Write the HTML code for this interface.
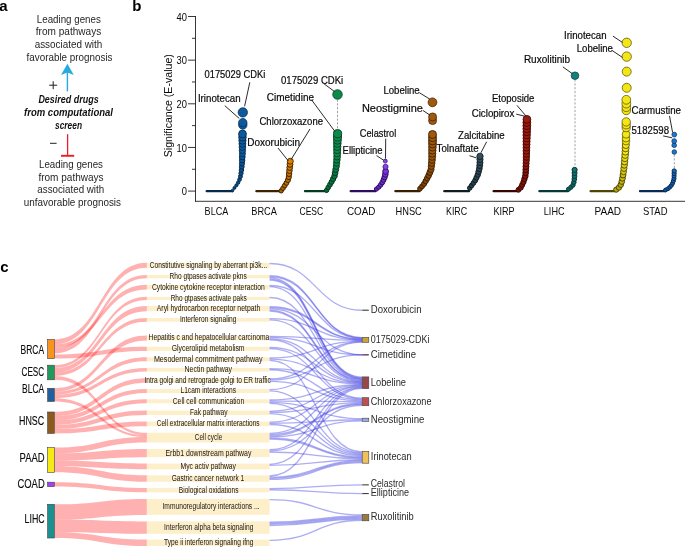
<!DOCTYPE html>
<html><head><meta charset="utf-8"><style>
html,body{margin:0;padding:0;background:#fff;}
svg{display:block;font-family:"Liberation Sans", sans-serif;will-change:transform;}
</style></head><body>
<svg width="685" height="547" viewBox="0 0 685 547">
<rect width="685" height="547" fill="#fff"/>
<text x="-0.8" y="10.8" font-size="15" font-weight="bold" fill="#000">a</text>
<text x="132.2" y="10.8" font-size="15" font-weight="bold" fill="#000">b</text>
<text x="0.2" y="271.6" font-size="15" font-weight="bold" fill="#000">c</text>
<text x="36.80" y="22.50" font-size="10.2" font-weight="normal" font-style="normal" fill="#262626" textLength="64.00" lengthAdjust="spacingAndGlyphs" >Leading genes</text>
<text x="35.80" y="35.30" font-size="10.2" font-weight="normal" font-style="normal" fill="#262626" textLength="65.40" lengthAdjust="spacingAndGlyphs" >from pathways</text>
<text x="34.70" y="48.10" font-size="10.2" font-weight="normal" font-style="normal" fill="#262626" textLength="67.50" lengthAdjust="spacingAndGlyphs" >associated with</text>
<text x="26.60" y="60.90" font-size="10.2" font-weight="normal" font-style="normal" fill="#262626" textLength="85.90" lengthAdjust="spacingAndGlyphs" >favorable prognosis</text>
<line x1="67.4" y1="91.4" x2="67.4" y2="71" stroke="#27aae1" stroke-width="1.4"/>
<polygon points="67.4,63.8 73.8,75.0 67.4,72.6 61.0,75.0" fill="#27aae1"/>
<line x1="49.2" y1="85.2" x2="57.2" y2="85.2" stroke="#231f20" stroke-width="1"/>
<line x1="53.2" y1="81.2" x2="53.2" y2="89.2" stroke="#231f20" stroke-width="1"/>
<text x="38.40" y="103.20" font-size="10.8" font-weight="bold" font-style="italic" fill="#111" textLength="60.30" lengthAdjust="spacingAndGlyphs" >Desired drugs</text>
<text x="24.00" y="116.20" font-size="10.8" font-weight="bold" font-style="italic" fill="#111" textLength="89.00" lengthAdjust="spacingAndGlyphs" >from computational</text>
<text x="55.00" y="129.20" font-size="10.8" font-weight="bold" font-style="italic" fill="#111" textLength="27.00" lengthAdjust="spacingAndGlyphs" >screen</text>
<line x1="50" y1="143.3" x2="56.6" y2="143.3" stroke="#231f20" stroke-width="1"/>
<line x1="67.6" y1="134.2" x2="67.6" y2="155.4" stroke="#ed1c24" stroke-width="1.3"/>
<line x1="61" y1="155.8" x2="74.2" y2="155.8" stroke="#ed1c24" stroke-width="1.9"/>
<text x="39.00" y="167.90" font-size="10.2" font-weight="normal" font-style="normal" fill="#262626" textLength="64.00" lengthAdjust="spacingAndGlyphs" >Leading genes</text>
<text x="38.40" y="180.60" font-size="10.2" font-weight="normal" font-style="normal" fill="#262626" textLength="65.20" lengthAdjust="spacingAndGlyphs" >from pathways</text>
<text x="37.30" y="193.30" font-size="10.2" font-weight="normal" font-style="normal" fill="#262626" textLength="66.90" lengthAdjust="spacingAndGlyphs" >associated with</text>
<text x="23.70" y="206.00" font-size="10.2" font-weight="normal" font-style="normal" fill="#262626" textLength="97.30" lengthAdjust="spacingAndGlyphs" >unfavorable prognosis</text>
<line x1="195.50" y1="16.00" x2="195.50" y2="201.60" stroke="#231f20" stroke-width="0.9" />
<line x1="195.05" y1="201.30" x2="685.00" y2="201.30" stroke="#231f20" stroke-width="0.9" />
<line x1="188.00" y1="191.10" x2="195.50" y2="191.10" stroke="#231f20" stroke-width="0.9" />
<text x="181.80" y="195.40" font-size="10.6" font-weight="normal" font-style="normal" fill="#0a0a0a" textLength="5.20" lengthAdjust="spacingAndGlyphs" >0</text>
<line x1="192.00" y1="169.27" x2="195.50" y2="169.27" stroke="#231f20" stroke-width="0.9" />
<line x1="188.00" y1="147.45" x2="195.50" y2="147.45" stroke="#231f20" stroke-width="0.9" />
<text x="176.60" y="151.75" font-size="10.6" font-weight="normal" font-style="normal" fill="#0a0a0a" textLength="10.40" lengthAdjust="spacingAndGlyphs" >10</text>
<line x1="192.00" y1="125.62" x2="195.50" y2="125.62" stroke="#231f20" stroke-width="0.9" />
<line x1="188.00" y1="103.80" x2="195.50" y2="103.80" stroke="#231f20" stroke-width="0.9" />
<text x="176.60" y="108.10" font-size="10.6" font-weight="normal" font-style="normal" fill="#0a0a0a" textLength="10.40" lengthAdjust="spacingAndGlyphs" >20</text>
<line x1="192.00" y1="81.97" x2="195.50" y2="81.97" stroke="#231f20" stroke-width="0.9" />
<line x1="188.00" y1="60.15" x2="195.50" y2="60.15" stroke="#231f20" stroke-width="0.9" />
<text x="176.60" y="64.45" font-size="10.6" font-weight="normal" font-style="normal" fill="#0a0a0a" textLength="10.40" lengthAdjust="spacingAndGlyphs" >30</text>
<line x1="192.00" y1="38.32" x2="195.50" y2="38.32" stroke="#231f20" stroke-width="0.9" />
<line x1="188.00" y1="16.50" x2="195.50" y2="16.50" stroke="#231f20" stroke-width="0.9" />
<text x="176.60" y="20.80" font-size="10.6" font-weight="normal" font-style="normal" fill="#0a0a0a" textLength="10.40" lengthAdjust="spacingAndGlyphs" >40</text>
<text transform="translate(171.6,157.2) rotate(-90)" x="0" y="0" font-size="11" fill="#0a0a0a" textLength="103" lengthAdjust="spacingAndGlyphs">Significance (E-value)</text>
<text x="204.60" y="215.00" font-size="10.4" font-weight="normal" font-style="normal" fill="#0a0a0a" textLength="23.70" lengthAdjust="spacingAndGlyphs" >BLCA</text>
<text x="251.30" y="215.00" font-size="10.4" font-weight="normal" font-style="normal" fill="#0a0a0a" textLength="25.60" lengthAdjust="spacingAndGlyphs" >BRCA</text>
<text x="299.50" y="215.00" font-size="10.4" font-weight="normal" font-style="normal" fill="#0a0a0a" textLength="23.70" lengthAdjust="spacingAndGlyphs" >CESC</text>
<text x="346.90" y="215.00" font-size="10.4" font-weight="normal" font-style="normal" fill="#0a0a0a" textLength="28.50" lengthAdjust="spacingAndGlyphs" >COAD</text>
<text x="395.50" y="215.00" font-size="10.4" font-weight="normal" font-style="normal" fill="#0a0a0a" textLength="26.30" lengthAdjust="spacingAndGlyphs" >HNSC</text>
<text x="446.00" y="215.00" font-size="10.4" font-weight="normal" font-style="normal" fill="#0a0a0a" textLength="21.10" lengthAdjust="spacingAndGlyphs" >KIRC</text>
<text x="493.40" y="215.00" font-size="10.4" font-weight="normal" font-style="normal" fill="#0a0a0a" textLength="21.20" lengthAdjust="spacingAndGlyphs" >KIRP</text>
<text x="543.80" y="215.00" font-size="10.4" font-weight="normal" font-style="normal" fill="#0a0a0a" textLength="20.80" lengthAdjust="spacingAndGlyphs" >LIHC</text>
<text x="594.50" y="215.00" font-size="10.4" font-weight="normal" font-style="normal" fill="#0a0a0a" textLength="26.60" lengthAdjust="spacingAndGlyphs" >PAAD</text>
<text x="643.00" y="215.00" font-size="10.4" font-weight="normal" font-style="normal" fill="#0a0a0a" textLength="24.50" lengthAdjust="spacingAndGlyphs" >STAD</text>
<line x1="206.7" y1="191.2" x2="232.0" y2="191.2" stroke="#062a4c" stroke-width="2.3" stroke-linecap="round"/>
<circle cx="232.50" cy="190.60" r="1.32" fill="#09477e" stroke="#062a4c" stroke-width="1.0"/>
<circle cx="234.43" cy="187.96" r="1.44" fill="#094880" stroke="#062a4c" stroke-width="1.0"/>
<circle cx="236.41" cy="185.35" r="1.56" fill="#094a82" stroke="#062a4c" stroke-width="1.0"/>
<circle cx="238.15" cy="182.57" r="1.69" fill="#094b84" stroke="#062a4c" stroke-width="1.0"/>
<circle cx="239.52" cy="179.61" r="1.83" fill="#0a4c87" stroke="#062a4c" stroke-width="1.0"/>
<circle cx="240.44" cy="176.48" r="1.97" fill="#0a4e89" stroke="#062a4c" stroke-width="1.0"/>
<circle cx="241.02" cy="173.25" r="2.12" fill="#0a508c" stroke="#062a4c" stroke-width="1.0"/>
<circle cx="241.46" cy="170.01" r="2.27" fill="#0a518f" stroke="#062a4c" stroke-width="1.0"/>
<circle cx="241.76" cy="166.74" r="2.42" fill="#0a5392" stroke="#062a4c" stroke-width="1.0"/>
<circle cx="241.98" cy="163.48" r="2.57" fill="#0a5494" stroke="#062a4c" stroke-width="1.0"/>
<circle cx="242.16" cy="160.20" r="2.72" fill="#0b5697" stroke="#062a4c" stroke-width="1.0"/>
<circle cx="242.28" cy="156.93" r="2.87" fill="#0b579a" stroke="#062a4c" stroke-width="1.0"/>
<circle cx="242.39" cy="153.66" r="3.02" fill="#0b599c" stroke="#062a4c" stroke-width="0.85"/>
<circle cx="242.40" cy="150.38" r="3.17" fill="#0b5a9e" stroke="#062a4c" stroke-width="0.85"/>
<circle cx="242.40" cy="147.10" r="3.32" fill="#0b5a9e" stroke="#062a4c" stroke-width="0.85"/>
<circle cx="242.42" cy="143.83" r="3.47" fill="#0b5a9e" stroke="#062a4c" stroke-width="0.85"/>
<circle cx="242.45" cy="140.55" r="3.62" fill="#0b5a9e" stroke="#062a4c" stroke-width="0.85"/>
<circle cx="242.47" cy="137.28" r="3.77" fill="#0b5a9e" stroke="#062a4c" stroke-width="0.85"/>
<circle cx="242.50" cy="134.00" r="3.92" fill="#0b5a9e" stroke="#062a4c" stroke-width="0.85"/>
<circle cx="242.8" cy="125.0" r="4.2" fill="#0b5a9e" stroke="#062a4c" stroke-width="0.7"/>
<circle cx="242.8" cy="122.6" r="4.2" fill="#0b5a9e" stroke="#062a4c" stroke-width="0.7"/>
<circle cx="242.8" cy="112.4" r="4.7" fill="#0b5a9e" stroke="#062a4c" stroke-width="0.7"/>
<line x1="256.4" y1="191.2" x2="280.5" y2="191.2" stroke="#3d2200" stroke-width="2.3" stroke-linecap="round"/>
<circle cx="281.20" cy="190.80" r="2.21" fill="#a96200" stroke="#3d2200" stroke-width="1.0"/>
<circle cx="283.01" cy="188.18" r="2.28" fill="#ae6500" stroke="#3d2200" stroke-width="1.0"/>
<circle cx="284.77" cy="185.54" r="2.35" fill="#b36800" stroke="#3d2200" stroke-width="1.0"/>
<circle cx="286.47" cy="182.85" r="2.43" fill="#b76b00" stroke="#3d2200" stroke-width="1.0"/>
<circle cx="287.95" cy="180.04" r="2.50" fill="#bd6e00" stroke="#3d2200" stroke-width="1.0"/>
<circle cx="288.78" cy="177.03" r="2.59" fill="#c27100" stroke="#3d2200" stroke-width="1.0"/>
<circle cx="289.10" cy="173.86" r="2.67" fill="#c87400" stroke="#3d2200" stroke-width="1.0"/>
<circle cx="289.43" cy="170.70" r="2.76" fill="#ce7800" stroke="#3d2200" stroke-width="1.0"/>
<circle cx="289.72" cy="167.53" r="2.85" fill="#d37b00" stroke="#3d2200" stroke-width="1.0"/>
<circle cx="290.01" cy="164.37" r="2.93" fill="#d97e00" stroke="#3d2200" stroke-width="1.0"/>
<circle cx="290.30" cy="161.20" r="3.00" fill="#df8200" stroke="#3d2200" stroke-width="0.85"/>
<line x1="305.0" y1="191.2" x2="326.0" y2="191.2" stroke="#043a20" stroke-width="2.3" stroke-linecap="round"/>
<line x1="337.5" y1="99.5" x2="337.5" y2="129.5" stroke="#888" stroke-width="0.8" stroke-dasharray="2.2,1.6"/>
<circle cx="326.60" cy="190.30" r="2.23" fill="#086b3b" stroke="#043a20" stroke-width="1.0"/>
<circle cx="328.24" cy="187.47" r="2.32" fill="#086d3c" stroke="#043a20" stroke-width="1.0"/>
<circle cx="329.96" cy="184.68" r="2.42" fill="#096f3d" stroke="#043a20" stroke-width="1.0"/>
<circle cx="331.62" cy="181.87" r="2.52" fill="#09723f" stroke="#043a20" stroke-width="1.0"/>
<circle cx="333.10" cy="178.95" r="2.62" fill="#097440" stroke="#043a20" stroke-width="1.0"/>
<circle cx="334.53" cy="176.02" r="2.72" fill="#097641" stroke="#043a20" stroke-width="1.0"/>
<circle cx="335.13" cy="172.80" r="2.83" fill="#0a7943" stroke="#043a20" stroke-width="1.0"/>
<circle cx="335.73" cy="169.59" r="2.94" fill="#0a7c44" stroke="#043a20" stroke-width="1.0"/>
<circle cx="336.33" cy="166.37" r="3.05" fill="#0a7e45" stroke="#043a20" stroke-width="0.85"/>
<circle cx="336.62" cy="163.12" r="3.16" fill="#0a8147" stroke="#043a20" stroke-width="0.85"/>
<circle cx="336.88" cy="159.86" r="3.27" fill="#0a8348" stroke="#043a20" stroke-width="0.85"/>
<circle cx="337.10" cy="156.59" r="3.39" fill="#0b864a" stroke="#043a20" stroke-width="0.85"/>
<circle cx="337.14" cy="153.32" r="3.50" fill="#0b894b" stroke="#043a20" stroke-width="0.85"/>
<circle cx="337.18" cy="150.05" r="3.61" fill="#0b8a4c" stroke="#043a20" stroke-width="0.85"/>
<circle cx="337.23" cy="146.78" r="3.72" fill="#0b8a4c" stroke="#043a20" stroke-width="0.85"/>
<circle cx="337.33" cy="143.51" r="3.84" fill="#0b8a4c" stroke="#043a20" stroke-width="0.85"/>
<circle cx="337.42" cy="140.24" r="3.95" fill="#0b8a4c" stroke="#043a20" stroke-width="0.85"/>
<circle cx="337.51" cy="136.97" r="4.06" fill="#0b8a4c" stroke="#043a20" stroke-width="0.85"/>
<circle cx="337.60" cy="133.70" r="4.10" fill="#0b8a4c" stroke="#043a20" stroke-width="0.85"/>
<circle cx="337.5" cy="94.5" r="4.8" fill="#0b8a4c" stroke="#043a20" stroke-width="0.7"/>
<line x1="350.7" y1="191.2" x2="375.5" y2="191.2" stroke="#2e0c66" stroke-width="2.3" stroke-linecap="round"/>
<circle cx="376.50" cy="189.00" r="2.10" fill="#672cbc" stroke="#2e0c66" stroke-width="1.0"/>
<circle cx="378.74" cy="187.13" r="2.18" fill="#692dbe" stroke="#2e0c66" stroke-width="1.0"/>
<circle cx="380.62" cy="184.94" r="2.28" fill="#6b2ec1" stroke="#2e0c66" stroke-width="1.0"/>
<circle cx="382.24" cy="182.52" r="2.39" fill="#6d30c5" stroke="#2e0c66" stroke-width="1.0"/>
<circle cx="383.54" cy="179.91" r="2.51" fill="#7031c9" stroke="#2e0c66" stroke-width="1.0"/>
<circle cx="384.58" cy="177.20" r="2.64" fill="#7233cc" stroke="#2e0c66" stroke-width="1.0"/>
<circle cx="385.35" cy="174.40" r="2.77" fill="#7534d0" stroke="#2e0c66" stroke-width="1.0"/>
<circle cx="385.60" cy="171.50" r="2.90" fill="#7836d4" stroke="#2e0c66" stroke-width="1.0"/>
<circle cx="385.5" cy="166.8" r="2.6" fill="#8a40f0" stroke="#2e0c66" stroke-width="0.7"/>
<circle cx="385.3" cy="161.1" r="2.0" fill="#8a40f0" stroke="#2e0c66" stroke-width="0.7"/>
<line x1="395.4" y1="191.2" x2="419.5" y2="191.2" stroke="#3a1e00" stroke-width="2.3" stroke-linecap="round"/>
<circle cx="420.00" cy="188.70" r="2.38" fill="#7a4207" stroke="#3a1e00" stroke-width="1.0"/>
<circle cx="422.07" cy="186.27" r="2.47" fill="#7c4408" stroke="#3a1e00" stroke-width="1.0"/>
<circle cx="424.10" cy="183.82" r="2.55" fill="#7f4508" stroke="#3a1e00" stroke-width="1.0"/>
<circle cx="425.67" cy="181.04" r="2.65" fill="#824708" stroke="#3a1e00" stroke-width="1.0"/>
<circle cx="427.23" cy="178.27" r="2.74" fill="#854809" stroke="#3a1e00" stroke-width="1.0"/>
<circle cx="428.63" cy="175.41" r="2.84" fill="#874a09" stroke="#3a1e00" stroke-width="1.0"/>
<circle cx="429.87" cy="172.47" r="2.94" fill="#8b4c09" stroke="#3a1e00" stroke-width="1.0"/>
<circle cx="431.03" cy="169.51" r="3.04" fill="#8e4e0a" stroke="#3a1e00" stroke-width="0.85"/>
<circle cx="431.35" cy="166.34" r="3.15" fill="#914f0a" stroke="#3a1e00" stroke-width="0.85"/>
<circle cx="431.68" cy="163.17" r="3.26" fill="#94510b" stroke="#3a1e00" stroke-width="0.85"/>
<circle cx="432.00" cy="160.00" r="3.37" fill="#98530b" stroke="#3a1e00" stroke-width="0.85"/>
<circle cx="432.11" cy="156.81" r="3.48" fill="#9b550b" stroke="#3a1e00" stroke-width="0.85"/>
<circle cx="432.21" cy="153.62" r="3.59" fill="#9e570c" stroke="#3a1e00" stroke-width="0.85"/>
<circle cx="432.32" cy="150.44" r="3.70" fill="#a0580c" stroke="#3a1e00" stroke-width="0.85"/>
<circle cx="432.42" cy="147.25" r="3.81" fill="#a0580c" stroke="#3a1e00" stroke-width="0.85"/>
<circle cx="432.50" cy="144.06" r="3.92" fill="#a0580c" stroke="#3a1e00" stroke-width="0.85"/>
<circle cx="432.50" cy="140.88" r="4.00" fill="#a0580c" stroke="#3a1e00" stroke-width="0.85"/>
<circle cx="432.50" cy="137.69" r="4.00" fill="#a0580c" stroke="#3a1e00" stroke-width="0.85"/>
<circle cx="432.50" cy="134.50" r="4.00" fill="#a0580c" stroke="#3a1e00" stroke-width="0.85"/>
<circle cx="432.6" cy="120.6" r="4.0" fill="#a0580c" stroke="#3a1e00" stroke-width="0.7"/>
<circle cx="432.6" cy="116.9" r="4.0" fill="#a0580c" stroke="#3a1e00" stroke-width="0.7"/>
<circle cx="432.5" cy="102.3" r="4.4" fill="#a0580c" stroke="#3a1e00" stroke-width="0.7"/>
<line x1="444.3" y1="191.2" x2="469.0" y2="191.2" stroke="#0f1c24" stroke-width="2.3" stroke-linecap="round"/>
<circle cx="469.80" cy="188.00" r="2.29" fill="#283d49" stroke="#0f1c24" stroke-width="1.0"/>
<circle cx="471.64" cy="185.49" r="2.35" fill="#293e4b" stroke="#0f1c24" stroke-width="1.0"/>
<circle cx="473.48" cy="182.98" r="2.42" fill="#2a404c" stroke="#0f1c24" stroke-width="1.0"/>
<circle cx="475.22" cy="180.41" r="2.49" fill="#2b414e" stroke="#0f1c24" stroke-width="1.0"/>
<circle cx="476.51" cy="177.57" r="2.57" fill="#2c4250" stroke="#0f1c24" stroke-width="1.0"/>
<circle cx="477.80" cy="174.74" r="2.65" fill="#2d4451" stroke="#0f1c24" stroke-width="1.0"/>
<circle cx="478.61" cy="171.74" r="2.73" fill="#2e4553" stroke="#0f1c24" stroke-width="1.0"/>
<circle cx="479.33" cy="168.71" r="2.82" fill="#2f4755" stroke="#0f1c24" stroke-width="1.0"/>
<circle cx="479.70" cy="165.63" r="2.90" fill="#314957" stroke="#0f1c24" stroke-width="1.0"/>
<circle cx="479.96" cy="162.52" r="2.99" fill="#324a59" stroke="#0f1c24" stroke-width="1.0"/>
<circle cx="480.00" cy="159.41" r="3.07" fill="#334c5a" stroke="#0f1c24" stroke-width="0.85"/>
<circle cx="480.00" cy="156.30" r="3.16" fill="#344e5c" stroke="#0f1c24" stroke-width="0.85"/>
<line x1="493.6" y1="191.2" x2="517.5" y2="191.2" stroke="#3a0500" stroke-width="2.3" stroke-linecap="round"/>
<circle cx="518.50" cy="189.80" r="2.43" fill="#761209" stroke="#3a0500" stroke-width="1.0"/>
<circle cx="520.82" cy="187.67" r="2.48" fill="#781209" stroke="#3a0500" stroke-width="1.0"/>
<circle cx="522.20" cy="184.86" r="2.54" fill="#7b1309" stroke="#3a0500" stroke-width="1.0"/>
<circle cx="523.50" cy="182.00" r="2.61" fill="#7e140a" stroke="#3a0500" stroke-width="1.0"/>
<circle cx="524.43" cy="178.99" r="2.68" fill="#81140a" stroke="#3a0500" stroke-width="1.0"/>
<circle cx="525.35" cy="175.99" r="2.75" fill="#84150b" stroke="#3a0500" stroke-width="1.0"/>
<circle cx="525.64" cy="172.87" r="2.82" fill="#87150b" stroke="#3a0500" stroke-width="1.0"/>
<circle cx="525.80" cy="169.72" r="2.89" fill="#8a160b" stroke="#3a0500" stroke-width="1.0"/>
<circle cx="525.96" cy="166.58" r="2.96" fill="#8d170c" stroke="#3a0500" stroke-width="1.0"/>
<circle cx="526.12" cy="163.44" r="3.03" fill="#90180c" stroke="#3a0500" stroke-width="0.85"/>
<circle cx="526.28" cy="160.30" r="3.11" fill="#94180d" stroke="#3a0500" stroke-width="0.85"/>
<circle cx="526.34" cy="157.15" r="3.18" fill="#97190d" stroke="#3a0500" stroke-width="0.85"/>
<circle cx="526.39" cy="154.01" r="3.25" fill="#9a1a0e" stroke="#3a0500" stroke-width="0.85"/>
<circle cx="526.44" cy="150.86" r="3.32" fill="#9c1a0e" stroke="#3a0500" stroke-width="0.85"/>
<circle cx="526.48" cy="147.71" r="3.39" fill="#9c1a0e" stroke="#3a0500" stroke-width="0.85"/>
<circle cx="526.53" cy="144.57" r="3.47" fill="#9c1a0e" stroke="#3a0500" stroke-width="0.85"/>
<circle cx="526.58" cy="141.42" r="3.54" fill="#9c1a0e" stroke="#3a0500" stroke-width="0.85"/>
<circle cx="526.63" cy="138.28" r="3.61" fill="#9c1a0e" stroke="#3a0500" stroke-width="0.85"/>
<circle cx="526.67" cy="135.13" r="3.68" fill="#9c1a0e" stroke="#3a0500" stroke-width="0.85"/>
<circle cx="526.72" cy="131.98" r="3.75" fill="#9c1a0e" stroke="#3a0500" stroke-width="0.85"/>
<circle cx="526.76" cy="128.84" r="3.83" fill="#9c1a0e" stroke="#3a0500" stroke-width="0.85"/>
<circle cx="526.81" cy="125.69" r="3.90" fill="#9c1a0e" stroke="#3a0500" stroke-width="0.85"/>
<circle cx="526.85" cy="122.55" r="3.90" fill="#9c1a0e" stroke="#3a0500" stroke-width="0.85"/>
<circle cx="526.90" cy="119.40" r="3.90" fill="#9c1a0e" stroke="#3a0500" stroke-width="0.85"/>
<line x1="539.4" y1="191.2" x2="568.0" y2="191.2" stroke="#063838" stroke-width="2.3" stroke-linecap="round"/>
<line x1="575.0" y1="79.5" x2="575.0" y2="166.5" stroke="#888" stroke-width="0.8" stroke-dasharray="2.2,1.6"/>
<circle cx="568.50" cy="189.20" r="2.05" fill="#0d6564" stroke="#063838" stroke-width="1.0"/>
<circle cx="570.90" cy="187.28" r="2.11" fill="#0e6665" stroke="#063838" stroke-width="1.0"/>
<circle cx="573.01" cy="185.03" r="2.17" fill="#0e6867" stroke="#063838" stroke-width="1.0"/>
<circle cx="573.86" cy="182.17" r="2.25" fill="#0e6a69" stroke="#063838" stroke-width="1.0"/>
<circle cx="574.33" cy="179.13" r="2.33" fill="#0f6c6b" stroke="#063838" stroke-width="1.0"/>
<circle cx="574.52" cy="176.06" r="2.41" fill="#0f6e6d" stroke="#063838" stroke-width="1.0"/>
<circle cx="574.56" cy="172.98" r="2.50" fill="#0f7070" stroke="#063838" stroke-width="1.0"/>
<circle cx="574.60" cy="169.90" r="2.58" fill="#107372" stroke="#063838" stroke-width="1.0"/>
<circle cx="575.0" cy="75.7" r="3.8" fill="#12807f" stroke="#063838" stroke-width="0.7"/>
<line x1="590.6" y1="191.2" x2="615.5" y2="191.2" stroke="#4f4600" stroke-width="2.3" stroke-linecap="round"/>
<circle cx="616.30" cy="189.60" r="2.63" fill="#b4a80c" stroke="#4f4600" stroke-width="1.0"/>
<circle cx="618.93" cy="187.56" r="2.67" fill="#b7ac0d" stroke="#4f4600" stroke-width="1.0"/>
<circle cx="620.73" cy="184.78" r="2.73" fill="#bcb00d" stroke="#4f4600" stroke-width="1.0"/>
<circle cx="621.77" cy="181.59" r="2.80" fill="#c1b50e" stroke="#4f4600" stroke-width="1.0"/>
<circle cx="622.44" cy="178.31" r="2.86" fill="#c7bb0f" stroke="#4f4600" stroke-width="1.0"/>
<circle cx="623.02" cy="175.01" r="2.93" fill="#ccc00f" stroke="#4f4600" stroke-width="1.0"/>
<circle cx="623.50" cy="171.70" r="3.00" fill="#d2c610" stroke="#4f4600" stroke-width="0.85"/>
<circle cx="623.91" cy="168.37" r="3.07" fill="#d7cb11" stroke="#4f4600" stroke-width="0.85"/>
<circle cx="624.29" cy="165.04" r="3.14" fill="#ddd011" stroke="#4f4600" stroke-width="0.85"/>
<circle cx="624.58" cy="161.71" r="3.21" fill="#e2d612" stroke="#4f4600" stroke-width="0.85"/>
<circle cx="624.87" cy="158.37" r="3.27" fill="#e8db13" stroke="#4f4600" stroke-width="0.85"/>
<circle cx="625.13" cy="155.03" r="3.34" fill="#eee113" stroke="#4f4600" stroke-width="0.85"/>
<circle cx="625.39" cy="151.69" r="3.41" fill="#f3e614" stroke="#4f4600" stroke-width="0.85"/>
<circle cx="625.59" cy="148.34" r="3.48" fill="#f3e614" stroke="#4f4600" stroke-width="0.85"/>
<circle cx="625.80" cy="145.00" r="3.55" fill="#f3e614" stroke="#4f4600" stroke-width="0.85"/>
<circle cx="626.7" cy="87.8" r="4.5" fill="#f3e614" stroke="#4f4600" stroke-width="0.7"/>
<circle cx="626.7" cy="71.6" r="4.5" fill="#f3e614" stroke="#4f4600" stroke-width="0.7"/>
<circle cx="626.7" cy="56.6" r="4.7" fill="#f3e614" stroke="#4f4600" stroke-width="0.7"/>
<circle cx="626.7" cy="42.8" r="4.7" fill="#f3e614" stroke="#4f4600" stroke-width="0.7"/>
<circle cx="626.0" cy="141.1" r="3.8" fill="#f3e614" stroke="#4f4600" stroke-width="0.7"/>
<circle cx="626.0" cy="138.2" r="3.8" fill="#f3e614" stroke="#4f4600" stroke-width="0.7"/>
<circle cx="626.1" cy="134.3" r="3.9" fill="#f3e614" stroke="#4f4600" stroke-width="0.7"/>
<circle cx="626.2" cy="127.6" r="4.1" fill="#f3e614" stroke="#4f4600" stroke-width="0.7"/>
<circle cx="626.2" cy="124.8" r="4.1" fill="#f3e614" stroke="#4f4600" stroke-width="0.7"/>
<circle cx="626.2" cy="121.9" r="4.2" fill="#f3e614" stroke="#4f4600" stroke-width="0.7"/>
<circle cx="626.3" cy="110.4" r="4.3" fill="#f3e614" stroke="#4f4600" stroke-width="0.7"/>
<circle cx="626.3" cy="107.3" r="4.3" fill="#f3e614" stroke="#4f4600" stroke-width="0.7"/>
<circle cx="626.3" cy="103.6" r="4.4" fill="#f3e614" stroke="#4f4600" stroke-width="0.7"/>
<circle cx="626.3" cy="99.8" r="4.4" fill="#f3e614" stroke="#4f4600" stroke-width="0.7"/>
<line x1="640.0" y1="191.2" x2="665.0" y2="191.2" stroke="#062a55" stroke-width="2.3" stroke-linecap="round"/>
<line x1="674.3" y1="154.5" x2="674.3" y2="169" stroke="#888" stroke-width="0.8" stroke-dasharray="2.2,1.6"/>
<circle cx="665.50" cy="190.00" r="1.91" fill="#125aa3" stroke="#062a55" stroke-width="1.0"/>
<circle cx="667.74" cy="188.88" r="1.93" fill="#125ba4" stroke="#062a55" stroke-width="1.0"/>
<circle cx="669.67" cy="187.33" r="1.94" fill="#135ca6" stroke="#062a55" stroke-width="1.0"/>
<circle cx="671.31" cy="185.46" r="1.96" fill="#135da8" stroke="#062a55" stroke-width="1.0"/>
<circle cx="672.55" cy="183.28" r="1.99" fill="#145fab" stroke="#062a55" stroke-width="1.0"/>
<circle cx="673.39" cy="180.94" r="2.02" fill="#1461ae" stroke="#062a55" stroke-width="1.0"/>
<circle cx="674.00" cy="178.51" r="2.04" fill="#1563b1" stroke="#062a55" stroke-width="1.0"/>
<circle cx="674.07" cy="176.01" r="2.07" fill="#1565b5" stroke="#062a55" stroke-width="1.0"/>
<circle cx="674.13" cy="173.50" r="2.10" fill="#1667b8" stroke="#062a55" stroke-width="1.0"/>
<circle cx="674.20" cy="171.00" r="2.13" fill="#1669bb" stroke="#062a55" stroke-width="1.0"/>
<circle cx="674.3" cy="152" r="2.3" fill="#1a78d4" stroke="#062a55" stroke-width="0.7"/>
<circle cx="674.2" cy="145.3" r="2.3" fill="#1a78d4" stroke="#062a55" stroke-width="0.7"/>
<circle cx="674.2" cy="141.1" r="2.4" fill="#1a78d4" stroke="#062a55" stroke-width="0.7"/>
<circle cx="674.3" cy="134.6" r="2.4" fill="#1a78d4" stroke="#062a55" stroke-width="0.7"/>
<line x1="249.80" y1="82.30" x2="244.60" y2="106.30" stroke="#231f20" stroke-width="0.95" />
<line x1="224.80" y1="105.70" x2="239.30" y2="118.50" stroke="#231f20" stroke-width="0.95" />
<line x1="310.00" y1="129.00" x2="291.00" y2="159.70" stroke="#231f20" stroke-width="0.95" />
<line x1="278.00" y1="148.00" x2="288.40" y2="161.00" stroke="#231f20" stroke-width="0.95" />
<line x1="324.00" y1="83.80" x2="334.60" y2="91.60" stroke="#231f20" stroke-width="0.95" />
<line x1="311.40" y1="99.60" x2="335.00" y2="131.60" stroke="#231f20" stroke-width="0.95" />
<line x1="385.70" y1="138.70" x2="385.50" y2="158.60" stroke="#231f20" stroke-width="0.95" />
<line x1="376.50" y1="155.60" x2="383.60" y2="160.20" stroke="#231f20" stroke-width="0.95" />
<line x1="419.20" y1="92.60" x2="429.90" y2="99.20" stroke="#231f20" stroke-width="0.95" />
<line x1="422.80" y1="110.40" x2="429.90" y2="115.10" stroke="#231f20" stroke-width="0.95" />
<line x1="486.60" y1="141.80" x2="480.90" y2="152.80" stroke="#231f20" stroke-width="0.95" />
<line x1="469.50" y1="155.70" x2="476.50" y2="157.90" stroke="#231f20" stroke-width="0.95" />
<line x1="516.90" y1="105.30" x2="526.00" y2="116.00" stroke="#231f20" stroke-width="0.95" />
<line x1="516.20" y1="114.10" x2="525.00" y2="116.30" stroke="#231f20" stroke-width="0.95" />
<line x1="562.90" y1="66.90" x2="572.10" y2="73.50" stroke="#231f20" stroke-width="0.95" />
<line x1="612.90" y1="36.10" x2="622.40" y2="42.40" stroke="#231f20" stroke-width="0.95" />
<line x1="612.00" y1="50.40" x2="622.40" y2="57.40" stroke="#231f20" stroke-width="0.95" />
<line x1="669.50" y1="115.90" x2="672.60" y2="132.50" stroke="#231f20" stroke-width="0.95" />
<line x1="663.10" y1="135.90" x2="672.20" y2="137.80" stroke="#231f20" stroke-width="0.95" />
<text x="204.50" y="77.70" font-size="10.6" font-weight="normal" font-style="normal" fill="#0a0a0a" stroke="#0a0a0a" stroke-width="0.2" textLength="60.70" lengthAdjust="spacingAndGlyphs" >0175029 CDKi</text>
<text x="197.90" y="102.00" font-size="10.6" font-weight="normal" font-style="normal" fill="#0a0a0a" stroke="#0a0a0a" stroke-width="0.2" textLength="42.70" lengthAdjust="spacingAndGlyphs" >Irinotecan</text>
<text x="281.00" y="84.40" font-size="10.6" font-weight="normal" font-style="normal" fill="#0a0a0a" stroke="#0a0a0a" stroke-width="0.2" textLength="62.20" lengthAdjust="spacingAndGlyphs" >0175029 CDKi</text>
<text x="266.80" y="100.90" font-size="10.6" font-weight="normal" font-style="normal" fill="#0a0a0a" stroke="#0a0a0a" stroke-width="0.2" textLength="47.20" lengthAdjust="spacingAndGlyphs" >Cimetidine</text>
<text x="259.50" y="125.20" font-size="10.6" font-weight="normal" font-style="normal" fill="#0a0a0a" stroke="#0a0a0a" stroke-width="0.2" textLength="63.50" lengthAdjust="spacingAndGlyphs" >Chlorzoxazone</text>
<text x="247.30" y="146.40" font-size="10.6" font-weight="normal" font-style="normal" fill="#0a0a0a" stroke="#0a0a0a" stroke-width="0.2" textLength="52.70" lengthAdjust="spacingAndGlyphs" >Doxorubicin</text>
<text x="359.80" y="137.00" font-size="10.6" font-weight="normal" font-style="normal" fill="#0a0a0a" stroke="#0a0a0a" stroke-width="0.2" textLength="36.40" lengthAdjust="spacingAndGlyphs" >Celastrol</text>
<text x="342.60" y="153.60" font-size="10.6" font-weight="normal" font-style="normal" fill="#0a0a0a" stroke="#0a0a0a" stroke-width="0.2" textLength="40.00" lengthAdjust="spacingAndGlyphs" >Ellipticine</text>
<text x="383.40" y="94.00" font-size="10.6" font-weight="normal" font-style="normal" fill="#0a0a0a" stroke="#0a0a0a" stroke-width="0.2" textLength="36.30" lengthAdjust="spacingAndGlyphs" >Lobeline</text>
<text x="361.90" y="111.90" font-size="10.6" font-weight="normal" font-style="normal" fill="#0a0a0a" stroke="#0a0a0a" stroke-width="0.2" textLength="61.00" lengthAdjust="spacingAndGlyphs" >Neostigmine</text>
<text x="458.00" y="139.00" font-size="10.6" font-weight="normal" font-style="normal" fill="#0a0a0a" stroke="#0a0a0a" stroke-width="0.2" textLength="46.60" lengthAdjust="spacingAndGlyphs" >Zalcitabine</text>
<text x="436.60" y="151.70" font-size="10.6" font-weight="normal" font-style="normal" fill="#0a0a0a" stroke="#0a0a0a" stroke-width="0.2" textLength="42.10" lengthAdjust="spacingAndGlyphs" >Tolnaftate</text>
<text x="492.00" y="102.00" font-size="10.6" font-weight="normal" font-style="normal" fill="#0a0a0a" stroke="#0a0a0a" stroke-width="0.2" textLength="42.40" lengthAdjust="spacingAndGlyphs" >Etoposide</text>
<text x="471.70" y="117.00" font-size="10.6" font-weight="normal" font-style="normal" fill="#0a0a0a" stroke="#0a0a0a" stroke-width="0.2" textLength="42.70" lengthAdjust="spacingAndGlyphs" >Ciclopirox</text>
<text x="523.90" y="63.20" font-size="10.6" font-weight="normal" font-style="normal" fill="#0a0a0a" stroke="#0a0a0a" stroke-width="0.2" textLength="46.10" lengthAdjust="spacingAndGlyphs" >Ruxolitinib</text>
<text x="564.10" y="39.00" font-size="10.6" font-weight="normal" font-style="normal" fill="#0a0a0a" stroke="#0a0a0a" stroke-width="0.2" textLength="42.50" lengthAdjust="spacingAndGlyphs" >Irinotecan</text>
<text x="576.80" y="52.30" font-size="10.6" font-weight="normal" font-style="normal" fill="#0a0a0a" stroke="#0a0a0a" stroke-width="0.2" textLength="36.10" lengthAdjust="spacingAndGlyphs" >Lobeline</text>
<text x="631.50" y="114.00" font-size="10.6" font-weight="normal" font-style="normal" fill="#0a0a0a" stroke="#0a0a0a" stroke-width="0.2" textLength="49.50" lengthAdjust="spacingAndGlyphs" >Carmustine</text>
<text x="631.50" y="133.90" font-size="10.6" font-weight="normal" font-style="normal" fill="#0a0a0a" stroke="#0a0a0a" stroke-width="0.2" textLength="37.50" lengthAdjust="spacingAndGlyphs" >5182598</text>
<rect x="146.8" y="262.8" width="122.80" height="5.00" fill="#feefcb"/>
<rect x="146.8" y="274.9" width="122.80" height="3.40" fill="#feefcb"/>
<rect x="146.8" y="284.8" width="122.80" height="4.60" fill="#feefcb"/>
<rect x="146.8" y="296.8" width="122.80" height="3.20" fill="#feefcb"/>
<rect x="146.8" y="305.9" width="122.80" height="5.30" fill="#feefcb"/>
<rect x="146.8" y="318.0" width="122.80" height="3.70" fill="#feefcb"/>
<rect x="146.8" y="335.6" width="122.80" height="4.80" fill="#feefcb"/>
<rect x="146.8" y="346.8" width="122.80" height="4.10" fill="#feefcb"/>
<rect x="146.8" y="357.3" width="122.80" height="4.00" fill="#feefcb"/>
<rect x="146.8" y="367.9" width="122.80" height="3.70" fill="#feefcb"/>
<rect x="146.8" y="378.3" width="122.80" height="4.50" fill="#feefcb"/>
<rect x="146.8" y="389.0" width="122.80" height="4.00" fill="#feefcb"/>
<rect x="146.8" y="399.3" width="122.80" height="4.00" fill="#feefcb"/>
<rect x="146.8" y="410.6" width="122.80" height="4.50" fill="#feefcb"/>
<rect x="146.8" y="421.5" width="122.80" height="4.70" fill="#feefcb"/>
<rect x="146.8" y="432.7" width="122.80" height="9.80" fill="#feefcb"/>
<rect x="146.8" y="449.0" width="122.80" height="8.20" fill="#feefcb"/>
<rect x="146.8" y="463.6" width="122.80" height="5.70" fill="#feefcb"/>
<rect x="146.8" y="475.3" width="122.80" height="6.50" fill="#feefcb"/>
<rect x="146.8" y="487.9" width="122.80" height="4.40" fill="#feefcb"/>
<rect x="146.8" y="498.9" width="122.80" height="16.00" fill="#feefcb"/>
<rect x="146.8" y="521.4" width="122.80" height="12.40" fill="#feefcb"/>
<rect x="146.8" y="539.6" width="122.80" height="6.40" fill="#feefcb"/>
<path d="M54.30,339.50 C100.55,339.50 100.55,262.80 146.80,262.80 L146.80,267.80 C100.55,267.80 100.55,344.40 54.30,344.40 Z" fill="#ff1e1e" fill-opacity="0.35"/>
<path d="M54.30,344.40 C100.55,344.40 100.55,284.80 146.80,284.80 L146.80,289.40 C100.55,289.40 100.55,347.60 54.30,347.60 Z" fill="#ff1e1e" fill-opacity="0.35"/>
<path d="M54.30,347.60 C100.55,347.60 100.55,274.90 146.80,274.90 L146.80,278.30 C100.55,278.30 100.55,353.40 54.30,353.40 Z" fill="#ff1e1e" fill-opacity="0.35"/>
<path d="M54.30,354.60 C100.55,354.60 100.55,346.80 146.80,346.80 L146.80,350.90 C100.55,350.90 100.55,358.60 54.30,358.60 Z" fill="#ff1e1e" fill-opacity="0.35"/>
<path d="M54.30,365.20 C100.55,365.20 100.55,296.80 146.80,296.80 L146.80,300.00 C100.55,300.00 100.55,368.00 54.30,368.00 Z" fill="#ff1e1e" fill-opacity="0.35"/>
<path d="M54.30,368.00 C100.55,368.00 100.55,305.90 146.80,305.90 L146.80,311.20 C100.55,311.20 100.55,372.30 54.30,372.30 Z" fill="#ff1e1e" fill-opacity="0.35"/>
<path d="M54.30,372.30 C100.55,372.30 100.55,318.00 146.80,318.00 L146.80,321.70 C100.55,321.70 100.55,375.90 54.30,375.90 Z" fill="#ff1e1e" fill-opacity="0.35"/>
<path d="M54.30,375.90 C100.55,375.90 100.55,432.70 146.80,432.70 L146.80,435.20 C100.55,435.20 100.55,379.80 54.30,379.80 Z" fill="#ff1e1e" fill-opacity="0.35"/>
<path d="M54.30,388.30 C100.55,388.30 100.55,335.60 146.80,335.60 L146.80,340.40 C100.55,340.40 100.55,391.60 54.30,391.60 Z" fill="#ff1e1e" fill-opacity="0.35"/>
<path d="M54.30,391.60 C100.55,391.60 100.55,357.30 146.80,357.30 L146.80,361.30 C100.55,361.30 100.55,394.60 54.30,394.60 Z" fill="#ff1e1e" fill-opacity="0.35"/>
<path d="M54.30,394.60 C100.55,394.60 100.55,367.90 146.80,367.90 L146.80,371.60 C100.55,371.60 100.55,398.20 54.30,398.20 Z" fill="#ff1e1e" fill-opacity="0.35"/>
<path d="M54.30,398.20 C100.55,398.20 100.55,435.00 146.80,435.00 L146.80,437.20 C100.55,437.20 100.55,401.50 54.30,401.50 Z" fill="#ff1e1e" fill-opacity="0.35"/>
<path d="M54.30,412.00 C100.55,412.00 100.55,378.30 146.80,378.30 L146.80,382.80 C100.55,382.80 100.55,416.30 54.30,416.30 Z" fill="#ff1e1e" fill-opacity="0.35"/>
<path d="M54.30,416.30 C100.55,416.30 100.55,389.00 146.80,389.00 L146.80,393.00 C100.55,393.00 100.55,420.60 54.30,420.60 Z" fill="#ff1e1e" fill-opacity="0.35"/>
<path d="M54.30,420.60 C100.55,420.60 100.55,399.30 146.80,399.30 L146.80,403.30 C100.55,403.30 100.55,424.90 54.30,424.90 Z" fill="#ff1e1e" fill-opacity="0.35"/>
<path d="M54.30,424.90 C100.55,424.90 100.55,410.60 146.80,410.60 L146.80,415.10 C100.55,415.10 100.55,429.10 54.30,429.10 Z" fill="#ff1e1e" fill-opacity="0.35"/>
<path d="M54.30,429.10 C100.55,429.10 100.55,421.50 146.80,421.50 L146.80,426.20 C100.55,426.20 100.55,433.40 54.30,433.40 Z" fill="#ff1e1e" fill-opacity="0.35"/>
<path d="M54.30,447.60 C100.55,447.60 100.55,437.00 146.80,437.00 L146.80,442.50 C100.55,442.50 100.55,453.40 54.30,453.40 Z" fill="#ff1e1e" fill-opacity="0.35"/>
<path d="M54.30,453.40 C100.55,453.40 100.55,449.00 146.80,449.00 L146.80,457.20 C100.55,457.20 100.55,460.60 54.30,460.60 Z" fill="#ff1e1e" fill-opacity="0.35"/>
<path d="M54.30,460.60 C100.55,460.60 100.55,463.60 146.80,463.60 L146.80,469.30 C100.55,469.30 100.55,466.30 54.30,466.30 Z" fill="#ff1e1e" fill-opacity="0.35"/>
<path d="M54.30,466.30 C100.55,466.30 100.55,475.30 146.80,475.30 L146.80,481.80 C100.55,481.80 100.55,472.30 54.30,472.30 Z" fill="#ff1e1e" fill-opacity="0.35"/>
<path d="M54.30,482.20 C100.55,482.20 100.55,487.90 146.80,487.90 L146.80,492.30 C100.55,492.30 100.55,486.60 54.30,486.60 Z" fill="#ff1e1e" fill-opacity="0.35"/>
<path d="M54.30,504.30 C100.55,504.30 100.55,498.90 146.80,498.90 L146.80,514.90 C100.55,514.90 100.55,519.50 54.30,519.50 Z" fill="#ff1e1e" fill-opacity="0.35"/>
<path d="M54.30,519.50 C100.55,519.50 100.55,521.40 146.80,521.40 L146.80,533.80 C100.55,533.80 100.55,532.20 54.30,532.20 Z" fill="#ff1e1e" fill-opacity="0.35"/>
<path d="M54.30,532.20 C100.55,532.20 100.55,539.60 146.80,539.60 L146.80,546.00 C100.55,546.00 100.55,538.00 54.30,538.00 Z" fill="#ff1e1e" fill-opacity="0.35"/>
<rect x="47.6" y="339.5" width="6.70" height="19.10" fill="#f7941d" stroke="#404040" stroke-width="0.6"/>
<text x="20.50" y="353.70" font-size="11.9" font-weight="normal" font-style="normal" fill="#0a0a0a" stroke="#0a0a0a" stroke-width="0.12" textLength="23.70" lengthAdjust="spacingAndGlyphs" >BRCA</text>
<rect x="47.6" y="365.2" width="6.70" height="14.60" fill="#1f9a5c" stroke="#404040" stroke-width="0.6"/>
<text x="21.50" y="375.50" font-size="11.9" font-weight="normal" font-style="normal" fill="#0a0a0a" stroke="#0a0a0a" stroke-width="0.12" textLength="22.70" lengthAdjust="spacingAndGlyphs" >CESC</text>
<rect x="47.6" y="388.3" width="6.70" height="13.20" fill="#1f5fa0" stroke="#404040" stroke-width="0.6"/>
<text x="22.00" y="393.40" font-size="11.9" font-weight="normal" font-style="normal" fill="#0a0a0a" stroke="#0a0a0a" stroke-width="0.12" textLength="22.20" lengthAdjust="spacingAndGlyphs" >BLCA</text>
<rect x="47.6" y="412.0" width="6.70" height="21.40" fill="#8b5a1e" stroke="#404040" stroke-width="0.6"/>
<text x="19.00" y="424.50" font-size="11.9" font-weight="normal" font-style="normal" fill="#0a0a0a" stroke="#0a0a0a" stroke-width="0.12" textLength="25.20" lengthAdjust="spacingAndGlyphs" >HNSC</text>
<rect x="47.6" y="447.6" width="6.70" height="24.70" fill="#f5ea14" stroke="#404040" stroke-width="0.6"/>
<text x="19.60" y="461.70" font-size="11.9" font-weight="normal" font-style="normal" fill="#0a0a0a" stroke="#0a0a0a" stroke-width="0.12" textLength="25.10" lengthAdjust="spacingAndGlyphs" >PAAD</text>
<rect x="47.6" y="482.2" width="6.70" height="4.40" fill="#9b45f0" stroke="#404040" stroke-width="0.6"/>
<text x="17.50" y="487.70" font-size="11.9" font-weight="normal" font-style="normal" fill="#0a0a0a" stroke="#0a0a0a" stroke-width="0.12" textLength="27.20" lengthAdjust="spacingAndGlyphs" >COAD</text>
<rect x="47.6" y="504.3" width="6.70" height="33.70" fill="#1a9090" stroke="#404040" stroke-width="0.6"/>
<text x="24.60" y="523.00" font-size="11.9" font-weight="normal" font-style="normal" fill="#0a0a0a" stroke="#0a0a0a" stroke-width="0.12" textLength="20.10" lengthAdjust="spacingAndGlyphs" >LIHC</text>
<text x="149.80" y="267.70" font-size="9.2" font-weight="normal" font-style="normal" fill="#161616" textLength="117.30" lengthAdjust="spacingAndGlyphs" >Constitutive signaling by aberrant pi3k...</text>
<text x="169.60" y="279.00" font-size="9.2" font-weight="normal" font-style="normal" fill="#161616" textLength="77.10" lengthAdjust="spacingAndGlyphs" >Rho gtpases activate pkns</text>
<text x="151.90" y="289.50" font-size="9.2" font-weight="normal" font-style="normal" fill="#161616" textLength="112.80" lengthAdjust="spacingAndGlyphs" >Cytokine cytokine receptor interaction</text>
<text x="170.70" y="300.80" font-size="9.2" font-weight="normal" font-style="normal" fill="#161616" textLength="76.00" lengthAdjust="spacingAndGlyphs" >Rho gtpases activate paks</text>
<text x="156.80" y="310.95" font-size="9.2" font-weight="normal" font-style="normal" fill="#161616" textLength="103.40" lengthAdjust="spacingAndGlyphs" >Aryl hydrocarbon receptor netpath</text>
<text x="179.90" y="322.25" font-size="9.2" font-weight="normal" font-style="normal" fill="#161616" textLength="56.60" lengthAdjust="spacingAndGlyphs" >Interferon signaling</text>
<text x="148.60" y="340.40" font-size="9.2" font-weight="normal" font-style="normal" fill="#161616" textLength="120.60" lengthAdjust="spacingAndGlyphs" >Hepatitis c and hepatocellular carcinoma</text>
<text x="171.70" y="351.25" font-size="9.2" font-weight="normal" font-style="normal" fill="#161616" textLength="72.90" lengthAdjust="spacingAndGlyphs" >Glycerolipid metabolism</text>
<text x="153.90" y="361.70" font-size="9.2" font-weight="normal" font-style="normal" fill="#161616" textLength="108.70" lengthAdjust="spacingAndGlyphs" >Mesodermal commitment pathway</text>
<text x="184.60" y="372.15" font-size="9.2" font-weight="normal" font-style="normal" fill="#161616" textLength="47.40" lengthAdjust="spacingAndGlyphs" >Nectin pathway</text>
<text x="144.50" y="382.95" font-size="9.2" font-weight="normal" font-style="normal" fill="#161616" textLength="126.30" lengthAdjust="spacingAndGlyphs" >Intra golgi and retrograde golgi to ER traffic</text>
<text x="180.50" y="393.40" font-size="9.2" font-weight="normal" font-style="normal" fill="#161616" textLength="55.50" lengthAdjust="spacingAndGlyphs" >L1cam interactions</text>
<text x="172.70" y="403.70" font-size="9.2" font-weight="normal" font-style="normal" fill="#161616" textLength="71.50" lengthAdjust="spacingAndGlyphs" >Cell cell communication</text>
<text x="190.00" y="415.25" font-size="9.2" font-weight="normal" font-style="normal" fill="#161616" textLength="37.50" lengthAdjust="spacingAndGlyphs" >Fak pathway</text>
<text x="156.80" y="426.25" font-size="9.2" font-weight="normal" font-style="normal" fill="#161616" textLength="102.80" lengthAdjust="spacingAndGlyphs" >Cell extracellular matrix interactions</text>
<text x="194.80" y="440.00" font-size="9.2" font-weight="normal" font-style="normal" fill="#161616" textLength="27.40" lengthAdjust="spacingAndGlyphs" >Cell cycle</text>
<text x="165.50" y="455.50" font-size="9.2" font-weight="normal" font-style="normal" fill="#161616" textLength="85.90" lengthAdjust="spacingAndGlyphs" >Erbb1 downstream pathway</text>
<text x="180.50" y="468.85" font-size="9.2" font-weight="normal" font-style="normal" fill="#161616" textLength="55.50" lengthAdjust="spacingAndGlyphs" >Myc activ pathway</text>
<text x="171.70" y="480.95" font-size="9.2" font-weight="normal" font-style="normal" fill="#161616" textLength="72.50" lengthAdjust="spacingAndGlyphs" >Gastric cancer network 1</text>
<text x="178.80" y="492.50" font-size="9.2" font-weight="normal" font-style="normal" fill="#161616" textLength="59.70" lengthAdjust="spacingAndGlyphs" >Biological oxidations</text>
<text x="162.50" y="509.30" font-size="9.2" font-weight="normal" font-style="normal" fill="#161616" textLength="97.10" lengthAdjust="spacingAndGlyphs" >Immunoregulatory interactions ...</text>
<text x="164.10" y="530.00" font-size="9.2" font-weight="normal" font-style="normal" fill="#161616" textLength="89.30" lengthAdjust="spacingAndGlyphs" >Interferon alpha beta signaling</text>
<text x="164.10" y="545.20" font-size="9.2" font-weight="normal" font-style="normal" fill="#161616" textLength="89.30" lengthAdjust="spacingAndGlyphs" >Type ii interferon signaling ifng</text>
<path d="M269.6,263.50 C315.90,263.50 315.90,310.25 362.2,310.25" fill="none" stroke="#3c3ce1" stroke-opacity="0.42" stroke-width="1.3"/>
<path d="M269.6,275.60 C315.90,275.60 315.90,337.55 362.2,337.55" fill="none" stroke="#3c3ce1" stroke-opacity="0.42" stroke-width="1.3"/>
<path d="M269.6,276.75 C315.90,276.75 315.90,338.05 362.2,338.05" fill="none" stroke="#3c3ce1" stroke-opacity="0.42" stroke-width="1.3"/>
<path d="M269.6,277.90 C315.90,277.90 315.90,377.21 362.2,377.21" fill="none" stroke="#3c3ce1" stroke-opacity="0.42" stroke-width="1.3"/>
<path d="M269.6,279.05 C315.90,279.05 315.90,377.82 362.2,377.82" fill="none" stroke="#3c3ce1" stroke-opacity="0.42" stroke-width="1.3"/>
<path d="M269.6,280.20 C315.90,280.20 315.90,378.44 362.2,378.44" fill="none" stroke="#3c3ce1" stroke-opacity="0.42" stroke-width="1.3"/>
<path d="M269.6,285.50 C315.90,285.50 315.90,338.55 362.2,338.55" fill="none" stroke="#3c3ce1" stroke-opacity="0.42" stroke-width="1.3"/>
<path d="M269.6,286.65 C315.90,286.65 315.90,379.06 362.2,379.06" fill="none" stroke="#3c3ce1" stroke-opacity="0.42" stroke-width="1.3"/>
<path d="M269.6,297.50 C315.90,297.50 315.90,379.67 362.2,379.67" fill="none" stroke="#3c3ce1" stroke-opacity="0.42" stroke-width="1.3"/>
<path d="M269.6,306.60 C315.90,306.60 315.90,339.05 362.2,339.05" fill="none" stroke="#3c3ce1" stroke-opacity="0.42" stroke-width="1.3"/>
<path d="M269.6,307.75 C315.90,307.75 315.90,339.55 362.2,339.55" fill="none" stroke="#3c3ce1" stroke-opacity="0.42" stroke-width="1.3"/>
<path d="M269.6,308.90 C315.90,308.90 315.90,354.85 362.2,354.85" fill="none" stroke="#3c3ce1" stroke-opacity="0.42" stroke-width="1.3"/>
<path d="M269.6,310.05 C315.90,310.05 315.90,380.29 362.2,380.29" fill="none" stroke="#3c3ce1" stroke-opacity="0.42" stroke-width="1.3"/>
<path d="M269.6,311.20 C315.90,311.20 315.90,380.90 362.2,380.90" fill="none" stroke="#3c3ce1" stroke-opacity="0.42" stroke-width="1.3"/>
<path d="M269.6,318.70 C315.90,318.70 315.90,340.05 362.2,340.05" fill="none" stroke="#3c3ce1" stroke-opacity="0.42" stroke-width="1.3"/>
<path d="M269.6,319.85 C315.90,319.85 315.90,381.52 362.2,381.52" fill="none" stroke="#3c3ce1" stroke-opacity="0.42" stroke-width="1.3"/>
<path d="M269.6,336.30 C315.90,336.30 315.90,340.55 362.2,340.55" fill="none" stroke="#3c3ce1" stroke-opacity="0.42" stroke-width="1.3"/>
<path d="M269.6,337.45 C315.90,337.45 315.90,354.85 362.2,354.85" fill="none" stroke="#3c3ce1" stroke-opacity="0.42" stroke-width="1.3"/>
<path d="M269.6,338.60 C315.90,338.60 315.90,382.13 362.2,382.13" fill="none" stroke="#3c3ce1" stroke-opacity="0.42" stroke-width="1.3"/>
<path d="M269.6,339.75 C315.90,339.75 315.90,398.14 362.2,398.14" fill="none" stroke="#3c3ce1" stroke-opacity="0.42" stroke-width="1.3"/>
<path d="M269.6,347.50 C315.90,347.50 315.90,382.75 362.2,382.75" fill="none" stroke="#3c3ce1" stroke-opacity="0.42" stroke-width="1.3"/>
<path d="M269.6,348.65 C315.90,348.65 315.90,399.03 362.2,399.03" fill="none" stroke="#3c3ce1" stroke-opacity="0.42" stroke-width="1.3"/>
<path d="M269.6,358.00 C315.90,358.00 315.90,341.05 362.2,341.05" fill="none" stroke="#3c3ce1" stroke-opacity="0.42" stroke-width="1.3"/>
<path d="M269.6,359.15 C315.90,359.15 315.90,383.37 362.2,383.37" fill="none" stroke="#3c3ce1" stroke-opacity="0.42" stroke-width="1.3"/>
<path d="M269.6,360.30 C315.90,360.30 315.90,451.80 362.2,451.80" fill="none" stroke="#3c3ce1" stroke-opacity="0.42" stroke-width="1.3"/>
<path d="M269.6,368.60 C315.90,368.60 315.90,383.98 362.2,383.98" fill="none" stroke="#3c3ce1" stroke-opacity="0.42" stroke-width="1.3"/>
<path d="M269.6,369.75 C315.90,369.75 315.90,399.92 362.2,399.92" fill="none" stroke="#3c3ce1" stroke-opacity="0.42" stroke-width="1.3"/>
<path d="M269.6,379.00 C315.90,379.00 315.90,341.55 362.2,341.55" fill="none" stroke="#3c3ce1" stroke-opacity="0.42" stroke-width="1.3"/>
<path d="M269.6,380.15 C315.90,380.15 315.90,354.85 362.2,354.85" fill="none" stroke="#3c3ce1" stroke-opacity="0.42" stroke-width="1.3"/>
<path d="M269.6,381.30 C315.90,381.30 315.90,400.81 362.2,400.81" fill="none" stroke="#3c3ce1" stroke-opacity="0.42" stroke-width="1.3"/>
<path d="M269.6,389.70 C315.90,389.70 315.90,342.05 362.2,342.05" fill="none" stroke="#3c3ce1" stroke-opacity="0.42" stroke-width="1.3"/>
<path d="M269.6,390.85 C315.90,390.85 315.90,452.79 362.2,452.79" fill="none" stroke="#3c3ce1" stroke-opacity="0.42" stroke-width="1.3"/>
<path d="M269.6,400.00 C315.90,400.00 315.90,384.60 362.2,384.60" fill="none" stroke="#3c3ce1" stroke-opacity="0.42" stroke-width="1.3"/>
<path d="M269.6,401.15 C315.90,401.15 315.90,401.70 362.2,401.70" fill="none" stroke="#3c3ce1" stroke-opacity="0.42" stroke-width="1.3"/>
<path d="M269.6,402.30 C315.90,402.30 315.90,418.72 362.2,418.72" fill="none" stroke="#3c3ce1" stroke-opacity="0.42" stroke-width="1.3"/>
<path d="M269.6,403.45 C315.90,403.45 315.90,453.78 362.2,453.78" fill="none" stroke="#3c3ce1" stroke-opacity="0.42" stroke-width="1.3"/>
<path d="M269.6,411.30 C315.90,411.30 315.90,385.21 362.2,385.21" fill="none" stroke="#3c3ce1" stroke-opacity="0.42" stroke-width="1.3"/>
<path d="M269.6,412.45 C315.90,412.45 315.90,402.59 362.2,402.59" fill="none" stroke="#3c3ce1" stroke-opacity="0.42" stroke-width="1.3"/>
<path d="M269.6,413.60 C315.90,413.60 315.90,454.77 362.2,454.77" fill="none" stroke="#3c3ce1" stroke-opacity="0.42" stroke-width="1.3"/>
<path d="M269.6,422.20 C315.90,422.20 315.90,385.83 362.2,385.83" fill="none" stroke="#3c3ce1" stroke-opacity="0.42" stroke-width="1.3"/>
<path d="M269.6,423.35 C315.90,423.35 315.90,419.75 362.2,419.75" fill="none" stroke="#3c3ce1" stroke-opacity="0.42" stroke-width="1.3"/>
<path d="M269.6,424.50 C315.90,424.50 315.90,455.76 362.2,455.76" fill="none" stroke="#3c3ce1" stroke-opacity="0.42" stroke-width="1.3"/>
<path d="M269.6,433.40 C315.90,433.40 315.90,386.44 362.2,386.44" fill="none" stroke="#3c3ce1" stroke-opacity="0.42" stroke-width="1.3"/>
<path d="M269.6,434.55 C315.90,434.55 315.90,403.48 362.2,403.48" fill="none" stroke="#3c3ce1" stroke-opacity="0.42" stroke-width="1.3"/>
<path d="M269.6,435.70 C315.90,435.70 315.90,404.37 362.2,404.37" fill="none" stroke="#3c3ce1" stroke-opacity="0.42" stroke-width="1.3"/>
<path d="M269.6,436.85 C315.90,436.85 315.90,420.78 362.2,420.78" fill="none" stroke="#3c3ce1" stroke-opacity="0.42" stroke-width="1.3"/>
<path d="M269.6,438.00 C315.90,438.00 315.90,456.75 362.2,456.75" fill="none" stroke="#3c3ce1" stroke-opacity="0.42" stroke-width="1.3"/>
<path d="M269.6,439.15 C315.90,439.15 315.90,457.75 362.2,457.75" fill="none" stroke="#3c3ce1" stroke-opacity="0.42" stroke-width="1.3"/>
<path d="M269.6,449.70 C315.90,449.70 315.90,387.06 362.2,387.06" fill="none" stroke="#3c3ce1" stroke-opacity="0.42" stroke-width="1.3"/>
<path d="M269.6,450.85 C315.90,450.85 315.90,405.26 362.2,405.26" fill="none" stroke="#3c3ce1" stroke-opacity="0.42" stroke-width="1.3"/>
<path d="M269.6,452.00 C315.90,452.00 315.90,458.74 362.2,458.74" fill="none" stroke="#3c3ce1" stroke-opacity="0.42" stroke-width="1.3"/>
<path d="M269.6,464.30 C315.90,464.30 315.90,387.68 362.2,387.68" fill="none" stroke="#3c3ce1" stroke-opacity="0.42" stroke-width="1.3"/>
<path d="M269.6,465.45 C315.90,465.45 315.90,459.73 362.2,459.73" fill="none" stroke="#3c3ce1" stroke-opacity="0.42" stroke-width="1.3"/>
<path d="M269.6,476.00 C315.90,476.00 315.90,388.29 362.2,388.29" fill="none" stroke="#3c3ce1" stroke-opacity="0.42" stroke-width="1.3"/>
<path d="M269.6,477.15 C315.90,477.15 315.90,460.72 362.2,460.72" fill="none" stroke="#3c3ce1" stroke-opacity="0.42" stroke-width="1.3"/>
<path d="M269.6,478.30 C315.90,478.30 315.90,461.71 362.2,461.71" fill="none" stroke="#3c3ce1" stroke-opacity="0.42" stroke-width="1.3"/>
<path d="M269.6,479.45 C315.90,479.45 315.90,462.70 362.2,462.70" fill="none" stroke="#3c3ce1" stroke-opacity="0.42" stroke-width="1.3"/>
<path d="M269.6,488.60 C315.90,488.60 315.90,484.85 362.2,484.85" fill="none" stroke="#3c3ce1" stroke-opacity="0.42" stroke-width="1.3"/>
<path d="M269.6,489.75 C315.90,489.75 315.90,493.55 362.2,493.55" fill="none" stroke="#3c3ce1" stroke-opacity="0.42" stroke-width="1.3"/>
<path d="M269.6,499.60 C315.90,499.60 315.90,514.93 362.2,514.93" fill="none" stroke="#3c3ce1" stroke-opacity="0.42" stroke-width="1.3"/>
<path d="M269.6,522.10 C315.90,522.10 315.90,516.00 362.2,516.00" fill="none" stroke="#3c3ce1" stroke-opacity="0.42" stroke-width="1.3"/>
<path d="M269.6,523.25 C315.90,523.25 315.90,517.07 362.2,517.07" fill="none" stroke="#3c3ce1" stroke-opacity="0.42" stroke-width="1.3"/>
<path d="M269.6,524.40 C315.90,524.40 315.90,518.13 362.2,518.13" fill="none" stroke="#3c3ce1" stroke-opacity="0.42" stroke-width="1.3"/>
<path d="M269.6,525.55 C315.90,525.55 315.90,519.20 362.2,519.20" fill="none" stroke="#3c3ce1" stroke-opacity="0.42" stroke-width="1.3"/>
<path d="M269.6,540.30 C315.90,540.30 315.90,520.27 362.2,520.27" fill="none" stroke="#3c3ce1" stroke-opacity="0.42" stroke-width="1.3"/>
<rect x="362.2" y="309.6" width="6.60" height="1.30" fill="#58595b"/>
<text x="370.80" y="313.10" font-size="10.6" font-weight="normal" font-style="normal" fill="#2a2a2a" textLength="50.70" lengthAdjust="spacingAndGlyphs" >Doxorubicin</text>
<rect x="362.2" y="337.3" width="6.60" height="5.00" fill="#c9a43c" stroke="#414042" stroke-width="0.6"/>
<text x="370.80" y="342.90" font-size="10.6" font-weight="normal" font-style="normal" fill="#2a2a2a" textLength="58.70" lengthAdjust="spacingAndGlyphs" >0175029-CDKi</text>
<rect x="362.2" y="354.2" width="6.60" height="1.30" fill="#5b2c5b"/>
<text x="370.80" y="357.80" font-size="10.6" font-weight="normal" font-style="normal" fill="#2a2a2a" textLength="45.20" lengthAdjust="spacingAndGlyphs" >Cimetidine</text>
<rect x="362.2" y="376.9" width="6.60" height="11.70" fill="#97494a" stroke="#414042" stroke-width="0.6"/>
<text x="370.80" y="386.00" font-size="10.6" font-weight="normal" font-style="normal" fill="#2a2a2a" textLength="35.20" lengthAdjust="spacingAndGlyphs" >Lobeline</text>
<rect x="362.2" y="397.7" width="6.60" height="8.00" fill="#c0504d" stroke="#414042" stroke-width="0.6"/>
<text x="370.80" y="405.10" font-size="10.6" font-weight="normal" font-style="normal" fill="#2a2a2a" textLength="60.70" lengthAdjust="spacingAndGlyphs" >Chlorzoxazone</text>
<rect x="362.2" y="418.2" width="6.60" height="3.10" fill="#a3a9df" stroke="#414042" stroke-width="0.6"/>
<text x="370.80" y="422.50" font-size="10.6" font-weight="normal" font-style="normal" fill="#2a2a2a" textLength="53.60" lengthAdjust="spacingAndGlyphs" >Neostigmine</text>
<rect x="362.2" y="451.3" width="6.60" height="11.90" fill="#f0c05a" stroke="#414042" stroke-width="0.6"/>
<text x="370.80" y="460.10" font-size="10.6" font-weight="normal" font-style="normal" fill="#2a2a2a" textLength="40.80" lengthAdjust="spacingAndGlyphs" >Irinotecan</text>
<rect x="362.2" y="484.3" width="6.60" height="1.10" fill="#414042"/>
<text x="370.80" y="487.40" font-size="10.6" font-weight="normal" font-style="normal" fill="#2a2a2a" textLength="34.20" lengthAdjust="spacingAndGlyphs" >Celastrol</text>
<rect x="362.2" y="493.0" width="6.60" height="1.10" fill="#414042"/>
<text x="370.80" y="496.20" font-size="10.6" font-weight="normal" font-style="normal" fill="#2a2a2a" textLength="38.20" lengthAdjust="spacingAndGlyphs" >Ellipticine</text>
<rect x="362.2" y="514.4" width="6.60" height="6.40" fill="#9b7a40" stroke="#414042" stroke-width="0.6"/>
<text x="370.80" y="519.80" font-size="10.6" font-weight="normal" font-style="normal" fill="#2a2a2a" textLength="42.90" lengthAdjust="spacingAndGlyphs" >Ruxolitinib</text>
</svg>
</body></html>
